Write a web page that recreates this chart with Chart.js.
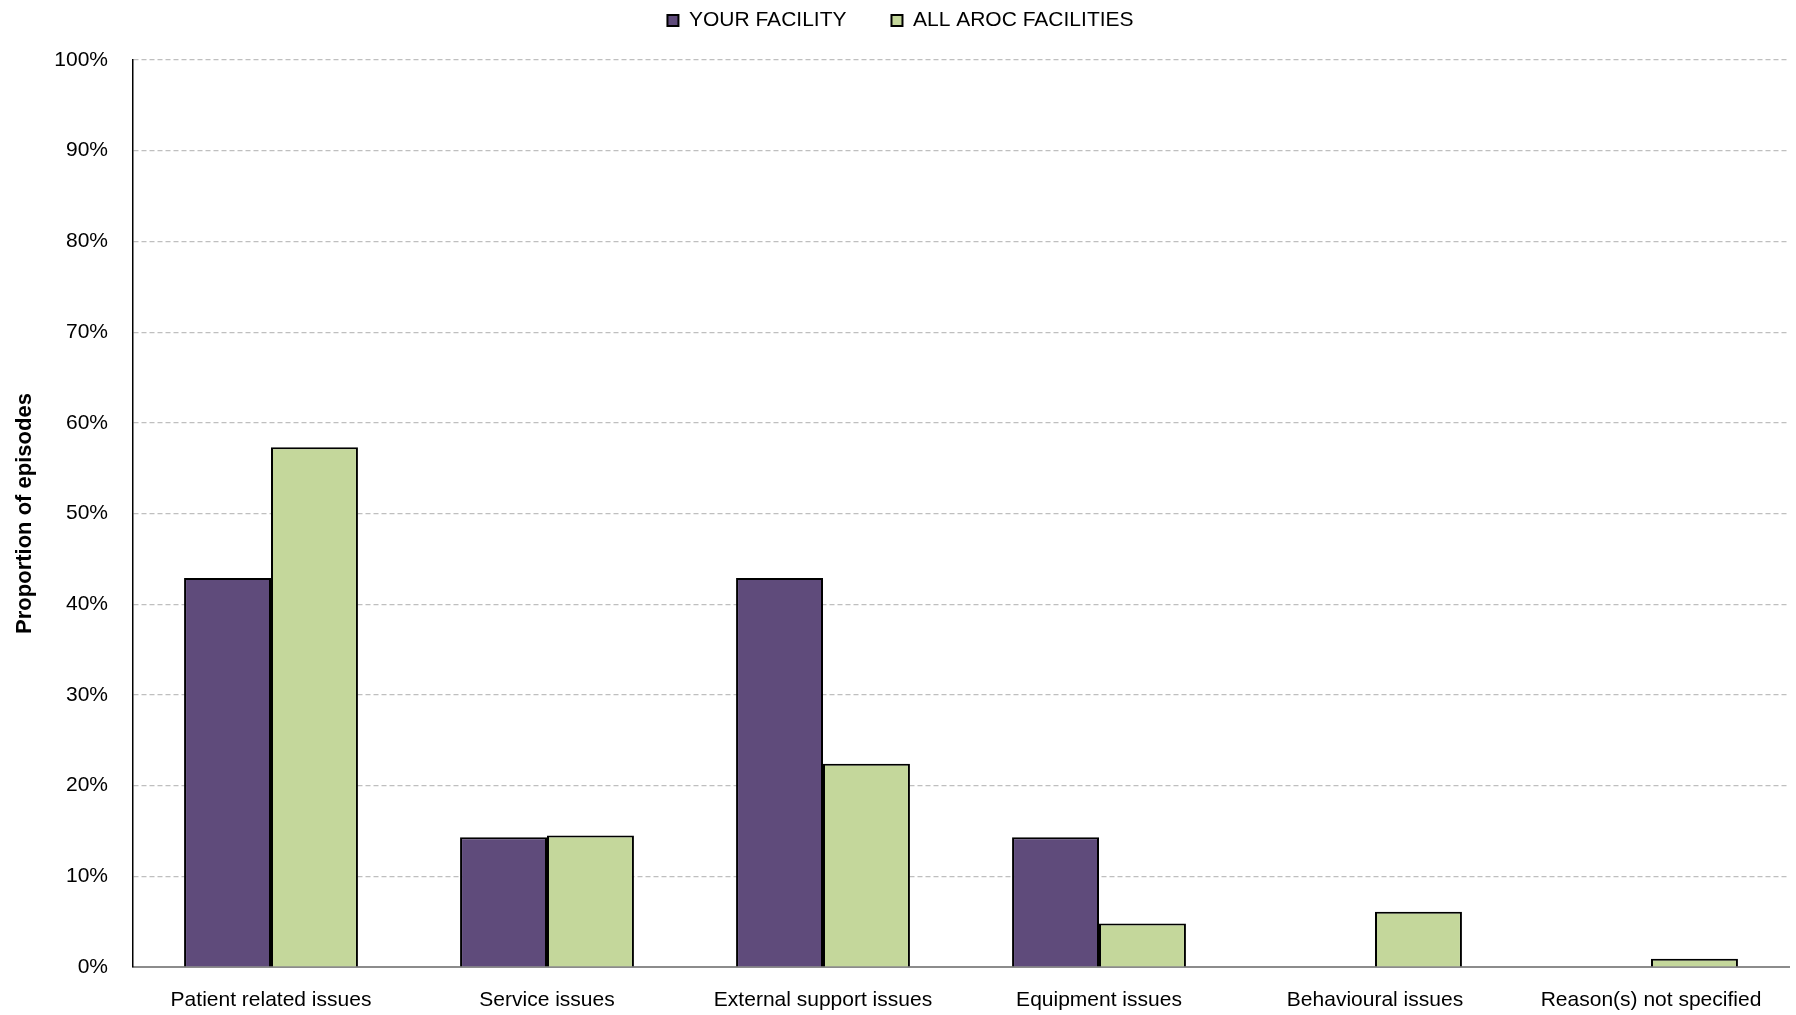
<!DOCTYPE html>
<html>
<head>
<meta charset="utf-8">
<script src="https://cdn.jsdelivr.net/npm/chart.js@4/dist/chart.umd.min.js"></script>
<style>
  html, body { margin: 0; padding: 0; background: #fff; }
  #wrap { width: 1796px; height: 1015px; }
</style>
</head>
<body>
<div id="wrap"><canvas id="myChart" width="1796" height="1015"></canvas></div>
<script>
var Categorias = ['Patient related issues', 'Service issues', 'External support issues', 'Equipment issues', 'Behavioural issues', 'Reason(s) not specified'];
var TuInstalacion = [42.9, 14.3, 42.9, 14.3, 0, 0];
var TodasAroc = [57.3, 14.5, 22.4, 4.8, 6.1, 0.9];
var Series = ['YOUR FACILITY', 'ALL AROC FACILITIES'];
var Fuente = "'Liberation Sans Narrow', 'Arial Narrow', 'Liberation Sans', Arial, sans-serif";

// espacio extra debajo de la leyenda
var MargenLeyenda = {
    id: 'margenLeyenda',
    beforeInit: function(chart)
    {
        var fitOriginal = chart.legend.fit;
        chart.legend.fit = function()
        {
            fitOriginal.bind(chart.legend)();
            this.height += 19;
        };
    }
};

function Graficas()
{
    var ctx = document.getElementById('myChart').getContext('2d');
    var chart = new Chart(ctx, {
        type: 'bar',
        data: {
            labels: Categorias,
            datasets: [{
                label: Series[0],
                data: TuInstalacion,
                backgroundColor: '#5f4b7b',
                borderColor: '#000000',
                borderWidth: 2,
                borderSkipped: 'bottom',
                categoryPercentage: 0.63,
                barPercentage: 1
            }, {
                label: Series[1],
                data: TodasAroc,
                backgroundColor: '#c4d79b',
                borderColor: '#000000',
                borderWidth: 2,
                borderSkipped: 'bottom',
                categoryPercentage: 0.63,
                barPercentage: 1
            }]
        },
        plugins: [MargenLeyenda],
        options: {
            responsive: false,
            animation: false,
            layout: { padding: { left: 12, right: 7, top: 0, bottom: 0 } },
            plugins: {
                legend: {
                    position: 'top',
                    labels: {
                        boxWidth: 11,
                        boxHeight: 11,
                        padding: 10,
                        color: '#000',
                        font: { family: Fuente, size: 21 },
                        generateLabels: function(chart)
                        {
                            var items = Chart.defaults.plugins.legend.labels.generateLabels(chart);
                            items[0].text += '      ';
                            return items;
                        }
                    }
                },
                tooltip: { enabled: false }
            },
            scales: {
                x: {
                    afterFit: function(scale) { scale.height = 48; },
                    grid: { display: false, drawTicks: false },
                    border: { display: true, color: '#8c8c8c', width: 2 },
                    ticks: {
                        color: '#000',
                        padding: 21,
                        maxRotation: 0,
                        font: { family: Fuente, size: 21 }
                    }
                },
                y: {
                    min: 0,
                    max: 100,
                    afterFit: function(scale) { scale.width = 121; },
                    grid: { color: '#bfbfbf', lineWidth: 1.2, drawTicks: false },
                    border: { display: true, color: '#000', width: 1.5, dash: [5, 3] },
                    ticks: {
                        stepSize: 10,
                        color: '#000',
                        padding: 25,
                        font: { family: Fuente, size: 21 },
                        callback: function(v) { return v + '%'; }
                    },
                    title: {
                        display: true,
                        text: 'Proportion of episodes',
                        color: '#000',
                        padding: { top: 0, bottom: 0 },
                        font: { family: Fuente, size: 22, weight: 'bold' }
                    }
                }
            }
        }
    });
}

Graficas();
</script>
</body>
</html>
